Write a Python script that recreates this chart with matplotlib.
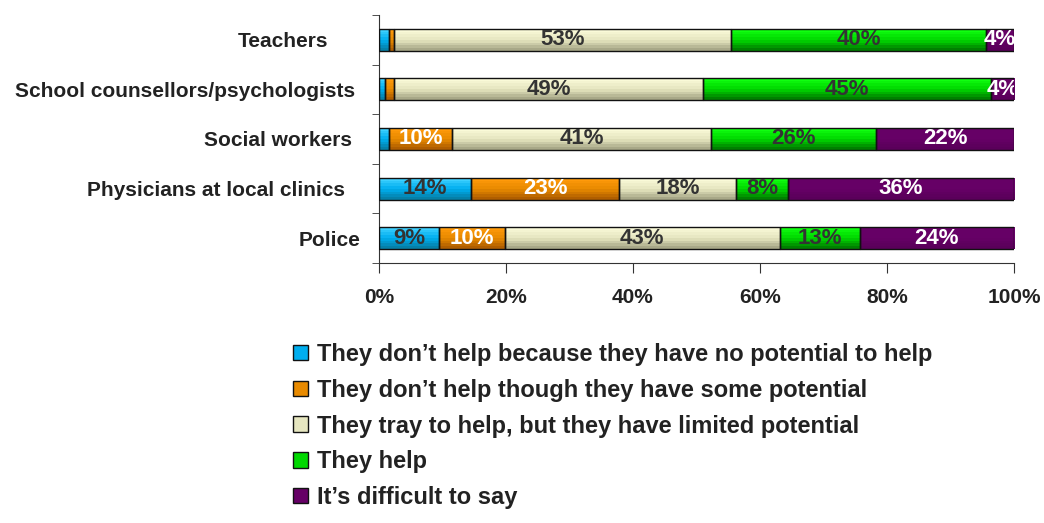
import numpy as np
import matplotlib
matplotlib.use("Agg")
from matplotlib import pyplot as plt
from matplotlib.colors import LinearSegmentedColormap
from matplotlib.patches import Patch
from matplotlib.transforms import ScaledTranslation

plt.rcParams['font.family'] = ['Liberation Sans', 'DejaVu Sans']
plt.rcParams['font.weight'] = 'bold'

categories = ["Teachers", "School counsellors/psychologists", "Social workers",
              "Physicians at local clinics", "Police"]
series_names = ["They don\u2019t help because they have no potential to help",
                "They don\u2019t help though they have some potential",
                "They tray to help, but they have limited potential",
                "They help",
                "It\u2019s difficult to say"]
no_potential = [1.5, 1.0, 1.6, 14.5, 9.4]
some_potential = [0.8, 1.4, 9.9, 23.3, 10.4]
limited = [53.1, 48.7, 40.8, 18.4, 43.3]
help_ = [40.2, 45.2, 26.0, 8.2, 12.6]
difficult = [4.4, 3.7, 21.7, 35.6, 24.3]
values = [no_potential, some_potential, limited, help_, difficult]

# (light top, dark bottom) for the gradient fills
grad = [("#3DD0FF", "#0580A8"), ("#FF9A0A", "#B05E00"), ("#FAFAD8", "#A8A888"),
        ("#10FF10", "#008000"), ("#660066", "#5A005A")]
mid = ["#00AEEF", "#E88A00", "#E6E6C0", "#00D800", "#660066"]
txt_col = ["#333333", "white", "#333333", "#333333", "white"]
# extra shift (px) of the category labels, as in the original
label_shift = [33, 6, 9, 16, 0]

fig = plt.figure(figsize=(10.44, 5.23), dpi=100)
ax = fig.add_axes([379 / 1044, 1 - 263 / 523, 635 / 1044, 248 / 523])

y = np.arange(len(categories))[::-1]
h = 0.44
left = np.zeros(len(categories))
for k, vals in enumerate(values):
    bars = ax.barh(y, vals, left=left, height=h, color="none", edgecolor="#111111",
                   linewidth=1.0, zorder=3)
    cmap = LinearSegmentedColormap.from_list("g%d" % k, [grad[k][0], mid[k], grad[k][1]])
    for b, v, l, yy in zip(bars, vals, left, y):
        img = np.linspace(0, 1, 8).reshape(-1, 1)
        im = ax.imshow(img, cmap=cmap, aspect='auto', interpolation='nearest',
                       extent=(l, l + v, yy - h / 2, yy + h / 2), origin='upper', zorder=2)
        im.set_clip_path(b)
        if v >= 3:
            ax.text(l + v / 2, yy, "%d%%" % round(v), ha='center', va='center',
                    fontsize=16, fontweight='bold', color=txt_col[k], zorder=4, clip_on=True)
    left = left + np.array(vals)

ax.set_xlim(0, 100)
ax.set_ylim(-0.5, len(categories) - 0.5)
ax.set_xticks(np.arange(0, 101, 20))
ax.set_xticklabels(["%d%%" % t for t in range(0, 101, 20)], fontsize=15, fontweight='bold',
                   color="#222222")
ax.set_yticks(y)
ax.set_yticklabels(categories, fontsize=15, fontweight='bold', color="#222222")
ax.set_yticks(np.arange(-0.5, len(categories), 1), minor=True)
ax.tick_params(axis='y', which='major', length=0, pad=13)
ax.tick_params(axis='y', which='minor', length=5, direction='out', color="#333333")
ax.tick_params(axis='x', length=7, direction='out', pad=11, color="#333333")
for lab, dx in zip(ax.get_yticklabels(), label_shift):
    lab.set_transform(lab.get_transform() + ScaledTranslation(-dx / 100, 0, fig.dpi_scale_trans))
for s in ['top', 'right']:
    ax.spines[s].set_visible(False)
ax.spines['left'].set_color("#333333")
ax.spines['bottom'].set_color("#333333")

handles = [Patch(facecolor=mid[k], edgecolor="#111111", linewidth=1.0) for k in range(5)]
fig.legend(handles, series_names, loc='upper left', bbox_to_anchor=(293 / 1044, 1 - 343 / 523),
           frameon=False, labelspacing=0.54, handlelength=0.63, handleheight=0.63,
           handletextpad=0.38, borderpad=0, borderaxespad=0, labelcolor="#222222",
           prop={'weight': 'bold', 'size': 17})

fig.savefig("out.png", dpi=100)
